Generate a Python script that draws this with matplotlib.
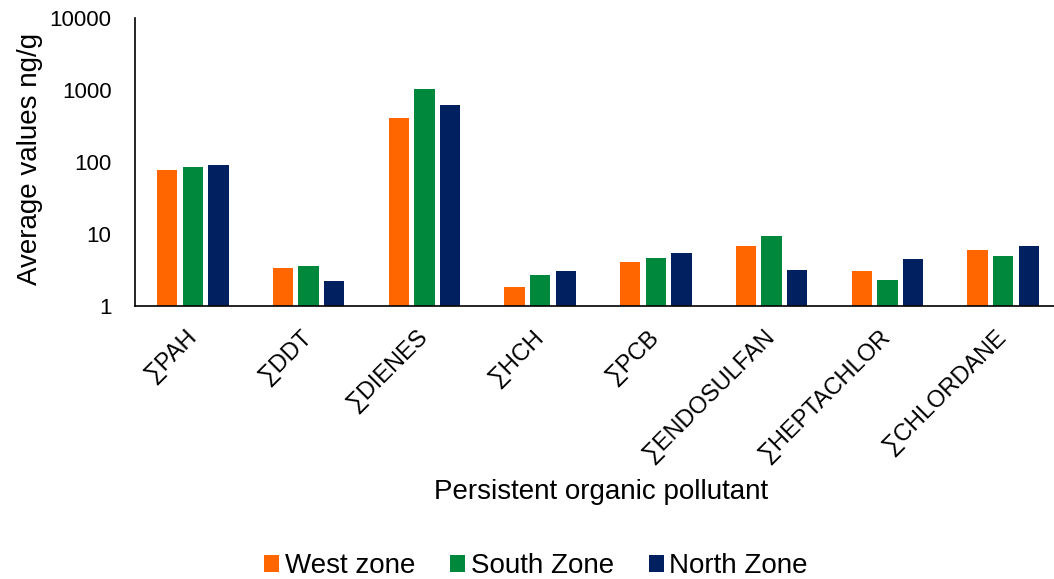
import numpy as np
import matplotlib.pyplot as plt
from matplotlib.ticker import FixedLocator, NullLocator

plt.rcParams['font.family'] = ['Liberation Sans', 'DejaVu Sans']

pollutants = ["∑PAH", "∑DDT", "∑DIENES", "∑HCH", "∑PCB",
              "∑ENDOSULFAN", "∑HEPTACHLOR", "∑CHLORDANE"]
zones = ["West zone", "South Zone", "North Zone"]
west = [77, 3.4, 408, 1.84, 4.1, 6.9, 3.06, 6.0]
south = [84, 3.6, 1020, 2.7, 4.6, 9.5, 2.27, 4.95]
north = [91, 2.2, 613, 3.06, 5.4, 3.13, 4.5, 6.8]
colors = ["#FF6600", "#00883D", "#002060"]

fig = plt.figure(figsize=(10.54, 5.79), dpi=100)
ax = fig.add_axes([135/1054, 1-306/579, 926/1054, 288/579])

x = np.arange(len(pollutants))
pitch = 0.221
for k, (vals, name) in enumerate(zip([west, south, north], zones)):
    ax.bar(x + (k-1)*pitch, vals, width=0.176, color=colors[k], label=name, zorder=2)

ax.set_yscale('log')
ax.set_ylim(1, 10000)
ax.set_xlim(-0.5, len(pollutants)-0.5)
ax.yaxis.set_major_locator(FixedLocator([1, 10, 100, 1000, 10000]))
ax.yaxis.set_minor_locator(NullLocator())
ax.set_yticklabels(["1", "10", "100", "1000", "10000"], fontsize=16)
ax.tick_params(axis='y', length=0, pad=17)

ax.set_xticks(x)
ax.set_xticklabels(pollutants, fontsize=17, rotation=45, ha='right', va='center',
                   rotation_mode='anchor')
ax.tick_params(axis='x', length=0, pad=20)

for s in ['top', 'right']:
    ax.spines[s].set_visible(False)
ax.spines['left'].set_linewidth(1.2)
ax.spines['bottom'].set_linewidth(1.2)

ax.set_xlabel("Persistent organic pollutant", fontsize=20)
ax.xaxis.label.set_va('center')
ax.xaxis.set_label_coords((601-135)/926, (306-492)/288)
ax.set_ylabel("Average values ng/g", fontsize=20)
ax.yaxis.label.set_va('center')
ax.yaxis.set_label_coords((30-135)/926, (306-159)/288)

fig.legend(loc='center', bbox_to_anchor=(536/1054, 1-566/579), ncol=3, frameon=False,
           fontsize=20, handlelength=0.55, handleheight=0.55, handletextpad=0.2,
           columnspacing=1.25)

fig.savefig("out.png", dpi=100)
